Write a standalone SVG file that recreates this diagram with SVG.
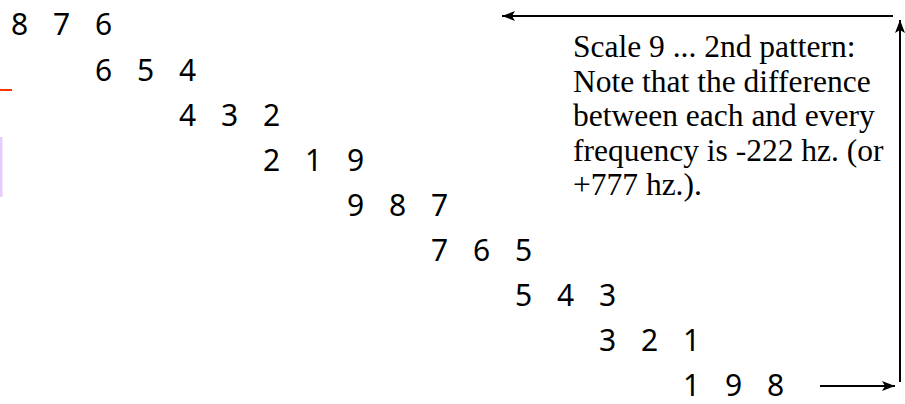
<svg xmlns="http://www.w3.org/2000/svg" width="905" height="404" viewBox="0 0 905 404">
<style>
.dg{font-family:"Noto Sans","Open Sans",sans-serif;font-size:30px;fill:#000}
.nt{font-family:"Liberation Serif","Times New Roman",serif;font-size:31.5px;fill:#000}
.ln{stroke:#000;stroke-width:2;fill:none}
</style>
<defs>
<marker id="ah" viewBox="0 0 13 10" refX="13" refY="5" markerWidth="13" markerHeight="10" markerUnits="userSpaceOnUse" orient="auto">
<path d="M0,0 L13,5 L0,10 L3,5 Z" fill="#000"/>
</marker>
</defs>
<g id="edge-marks">
<rect x="0" y="89" width="12" height="2" fill="#FF3300"/>
<rect x="0" y="137" width="2.5" height="60" fill="#E6CCFF"/>
</g>
<g id="sequence">
<text class="dg" x="11 53 95" y="35">876</text>
<text class="dg" x="95 137 179" y="81">654</text>
<text class="dg" x="179 221 263" y="126">432</text>
<text class="dg" x="263 305 347" y="171">219</text>
<text class="dg" x="347 389 431" y="216">987</text>
<text class="dg" x="431 473 515" y="261">765</text>
<text class="dg" x="515 557 599" y="306">543</text>
<text class="dg" x="599 641 683" y="351">321</text>
<text class="dg" x="683 725 767" y="396">198</text>
</g>
<g id="note">
<text class="nt" x="573" y="57">Scale 9 ... 2nd pattern:</text>
<text class="nt" x="573" y="91.5">Note that the difference</text>
<text class="nt" x="573" y="126">between each and every</text>
<text class="nt" x="573" y="160.5">frequency is -222 hz. (or</text>
<text class="nt" x="573" y="195">+777 hz.).</text>
</g>
<g id="connectors">
<line class="ln" x1="820" y1="386" x2="895" y2="386" marker-end="url(#ah)"/>
<line class="ln" x1="900" y1="382" x2="900" y2="20" marker-end="url(#ah)"/>
<line class="ln" x1="893" y1="16" x2="502" y2="16" marker-end="url(#ah)"/>
</g>
</svg>
